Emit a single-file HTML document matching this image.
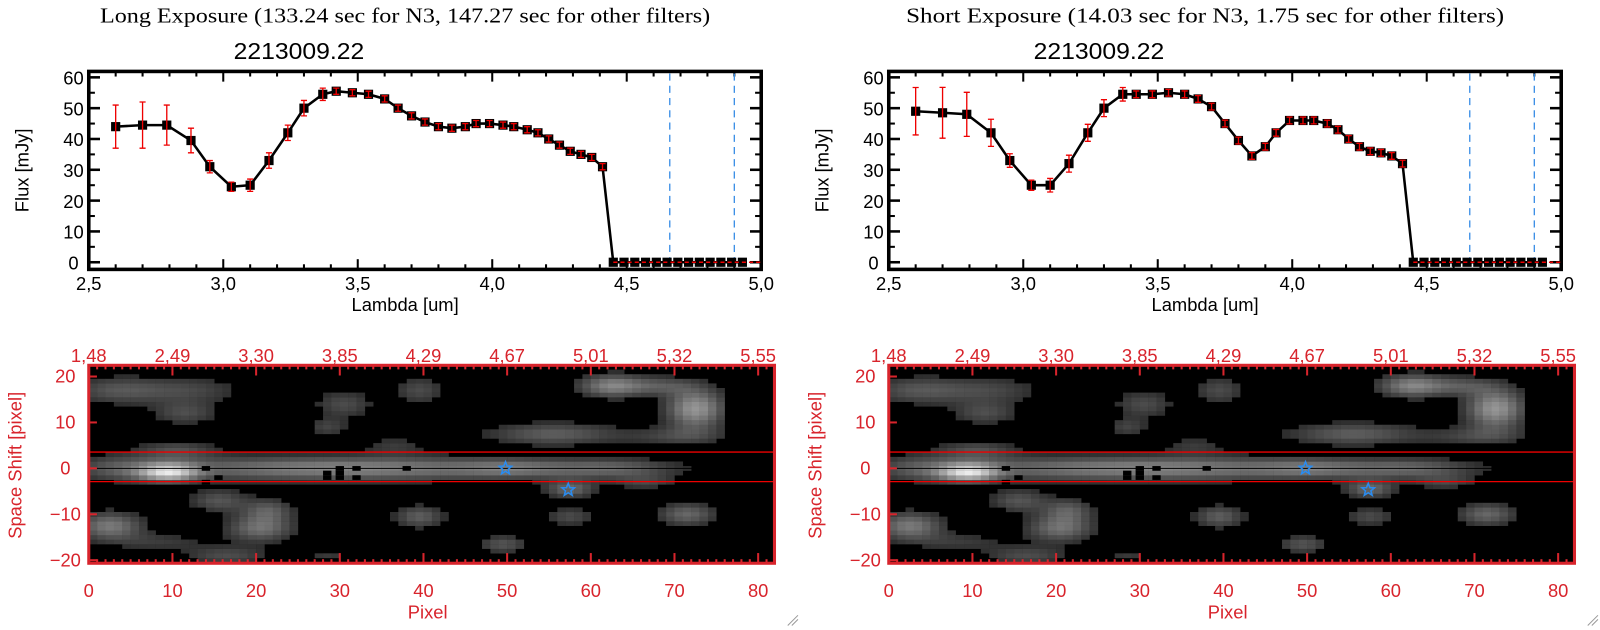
<!DOCTYPE html>
<html><head><meta charset="utf-8"><style>
body{margin:0;background:#fff;width:1600px;height:630px;overflow:hidden}
svg{display:block}
.t{font-family:"Liberation Sans",sans-serif}
.s{font-family:"Liberation Serif",serif}
</style></head><body>
<svg width="1600" height="630" xmlns="http://www.w3.org/2000/svg"><g id="svg" transform="scale(1.0204)"></g></svg>
<script>
const NS="http://www.w3.org/2000/svg",S=document.getElementById('svg');
function el(t,a,p){const e=document.createElementNS(NS,t);for(const k in a)e.setAttribute(k,a[k]);(p||S).appendChild(e);return e}
function txt(x,y,s,a){const e=el('text',Object.assign({x:x,y:y,'text-anchor':'middle'},a));e.textContent=s;return e}
const lam=[2.60,2.70,2.79,2.88,2.95,3.03,3.10,3.17,3.24,3.30,3.37,3.42,3.48,3.54,3.60,3.65,3.70,3.75,3.80,3.85,3.90,3.94,3.99,4.04,4.08,4.13,4.17,4.21,4.25,4.29,4.33,4.37,4.41,4.45];
const L=[44,44.5,44.5,39.5,31,24.5,25,33,42,50,54.5,55.5,55,54.5,53,50,47.5,45.5,44,43.5,44,45,45,44.5,44,43,42,40,38,36,35,34,31,0];
const Sh=[49,48.5,48,42,33,25,25,32,42,50,54.5,54.5,54.5,55,54.5,53,50.5,45,39.5,34.5,37.5,42,46,46,46,45,43,40,37.5,36,35.5,34.5,32,0];
const E=[7,7.5,6.5,4,2,1.5,2,2.5,2.5,2.5,2,1,1,1,1,1,1,1,1,1,1,1,1,1,1,1,1,1,1,1,1,1,1,0];
for(let l=4.49;l<=4.97;l+=0.04){lam.push(l);L.push(0);Sh.push(0);E.push(0)}
function panel(o,title,data,tl){
 const X=l=>o+87+(l-2.5)*263.6, Y=v=>257-v*3.02;
 txt(o+397,22,title,{class:'s','font-size':21,textLength:tl,lengthAdjust:'spacingAndGlyphs'});
 txt(o+293,58,'2213009.22',{class:'t','font-size':23,textLength:128,lengthAdjust:'spacingAndGlyphs'});
 for(let v=0;v<=60;v+=10){el('line',{x1:o+87,x2:o+98,y1:Y(v),y2:Y(v),stroke:'#000','stroke-width':2.5});el('line',{x1:o+746,x2:o+735,y1:Y(v),y2:Y(v),stroke:'#000','stroke-width':2.5});
  txt(o+72,Y(v)+7,String(v),{class:'t','font-size':18});}
 for(let v=5;v<=60;v+=10){el('line',{x1:o+87,x2:o+93,y1:Y(v),y2:Y(v),stroke:'#000','stroke-width':2});el('line',{x1:o+746,x2:o+740,y1:Y(v),y2:Y(v),stroke:'#000','stroke-width':2});}
 for(let l=2.5;l<=5.001;l+=0.1){const big=Math.abs(l*2-Math.round(l*2))<0.01;const h=big?10:5;
  el('line',{x1:X(l),x2:X(l),y1:264,y2:264-h,stroke:'#000','stroke-width':2});el('line',{x1:X(l),x2:X(l),y1:70,y2:70+h,stroke:'#000','stroke-width':2});
  if(big)txt(X(l),284,l.toFixed(1).replace('.',','),{class:'t','font-size':18});}
 el('rect',{x:o+87,y:70,width:659,height:194,fill:'none',stroke:'#000','stroke-width':3.5});
 txt(o+397,305,'Lambda [um]',{class:'t','font-size':18});
 txt(0,0,'Flux [mJy]',{class:'t','font-size':18,transform:`translate(${o+28},167) rotate(-90)`});
 for(const l of [4.66,4.90])el('line',{x1:X(l),x2:X(l),y1:72,y2:262,stroke:'#3a8ee6','stroke-width':1.3,'stroke-dasharray':'7,5'});
 let p='';lam.forEach((l,i)=>p+=(i?'L':'M')+X(l).toFixed(1)+' '+Y(data[i]).toFixed(1));
 el('path',{d:p,fill:'none',stroke:'#000','stroke-width':2.5});
 lam.forEach((l,i)=>{el('rect',{x:X(l)-4.5,y:Y(data[i])-4.5,width:9,height:9,fill:'#000'});});
 el('line',{x1:X(4.45),x2:o+746,y1:Y(0),y2:Y(0),stroke:'#e00','stroke-width':1.5,'stroke-dasharray':'4,3'});
 lam.forEach((l,i)=>{const e=E[i]*(o?1.1:1);if(!e)return;const x=X(l),a=Y(data[i]+e),b=Y(data[i]-e);
  el('path',{d:`M${x} ${a}V${b}M${x-3} ${a}h6M${x-3} ${b}h6`,stroke:'#e00','stroke-width':1.3,fill:'none'});});
 const PX=p=>o+87+p*8.2, PY=v=>459-v*4.5;
 el('rect',{x:o+87,y:358,width:672,height:194,fill:'#000'});
 const band=[[9,-0.8,3.5,2,0.7],[30,0,24,2.6,0.5],[3,0,5,3,0.2],[50,0,6,2,0.2],[62,0,8,2,0.3],[10,4,5,2,0.25]];
 const bl=[[3,17,6,3,0.35],[12,17,6,3,0.25],[11,12,4,2.5,0.3],[30,14,3.5,3,0.3],[39,17,3,3,0.3],[28,9,2.5,2,0.25],[36,5,4,2,0.2],
 [62,18,4,2.5,0.6],[68,18,4,2,0.3],[72,13,3.5,4.5,0.7],[55,7.5,8,2.5,0.4],[70,7,6,2,0.25],[2,-12.5,4,3,0.55],[20,-13,4,3,0.5],[21,-9,3,2.5,0.35],[15,-7,3.5,2.5,0.35],[39,-10.5,3,2.5,0.4],
 [57,-4.5,3,2,0.45],[57,-10.5,3,2,0.3],[71,-10,3.5,2.5,0.45],[49,-16.5,3,2,0.35],[16,-19,5,2,0.3],[28,-19,3,1.5,0.2],[66,-3,4,1.5,0.25],[8,-16,6,2,0.2]];
 bl.forEach(b=>b[4]*=0.8);
 const blobs=band.concat(bl);
 for(let px=0;px<76;px++)for(let py=-20;py<=22;py++){let v=0;for(const b of blobs){const dx=(px-b[0])/b[2],dy=(py-b[1])/b[3];v+=b[4]*Math.exp(-(dx*dx+dy*dy));}
  if(v<0.11)continue;v=Math.min(1,v);const g=Math.round(20+v*230);
  el('rect',{x:PX(px),y:PY(py+0.5),width:8.4,height:4.7,fill:`rgb(${g},${g},${g})`});}
 for(const d of [[13.5,0],[13.5,-3],[15,-2],[28,-1],[28,-2],[29.5,0],[29.5,-1],[29.5,-2],[31.5,0],[31.5,-2],[37.5,0]])el('rect',{x:PX(d[0]),y:PY(d[1]+0.5),width:8.2,height:4.6,fill:'#000'});
 el('line',{x1:o+87,x2:o+759,y1:443,y2:443,stroke:'#e00','stroke-width':1.3});
 el('line',{x1:o+87,x2:o+759,y1:472,y2:472,stroke:'#e00','stroke-width':1.3});
 el('line',{x1:o+87,x2:o+759,y1:459,y2:459,stroke:'#000','stroke-width':1});
 for(const s of [[49.8,0],[57.3,-4.7]]){const cx=PX(s[0]),cy=PY(s[1]);let d='';for(let k=0;k<10;k++){const r=k%2?2.8:6.5,a=-Math.PI/2+k*Math.PI/5;d+=(k?'L':'M')+(cx+r*Math.cos(a)).toFixed(1)+' '+(cy+r*Math.sin(a)).toFixed(1);}
  el('path',{d:d+'Z',fill:'none',stroke:'#2a8cf0','stroke-width':1.5});}
 const R='#d8242c';
 el('rect',{x:o+87,y:358,width:672,height:194,fill:'none',stroke:R,'stroke-width':3});
 for(let p=0;p<=81;p++){const big=p%10==0;const h=big?10:4;el('line',{x1:PX(p),x2:PX(p),y1:552,y2:552-h,stroke:R,'stroke-width':2});el('line',{x1:PX(p),x2:PX(p),y1:358,y2:358+h,stroke:R,'stroke-width':2});
  if(big)txt(PX(p),585,String(p),{class:'t','font-size':18,fill:R});}
 const top=['1,48','2,49','3,30','3,85','4,29','4,67','5,01','5,32','5,55'];
 top.forEach((s,i)=>txt(PX(i*10),355,s,{class:'t','font-size':18,fill:R}));
 for(let v=-20;v<=20;v+=10){el('line',{x1:o+87,x2:o+95,y1:PY(v),y2:PY(v),stroke:R,'stroke-width':2});txt(o+64,PY(v)+6,v<0?'\u2212'+(-v):String(v),{class:'t','font-size':18,fill:R});}
 txt(PX(40.5),606,'Pixel',{class:'t','font-size':18,fill:R});
 txt(0,0,'Space Shift [pixel]',{class:'t','font-size':18,fill:R,transform:`translate(${o+21},456) rotate(-90)`});
 el('path',{d:`M${o+772} 613L${o+782} 603M${o+776} 613L${o+782} 607`,stroke:'#999','stroke-width':1});
}
panel(0,'Long Exposure (133.24 sec for N3, 147.27 sec for other filters)',L,598);
panel(784,'Short Exposure (14.03 sec for N3, 1.75 sec for other filters)',Sh,586);
</script>
</body></html>
